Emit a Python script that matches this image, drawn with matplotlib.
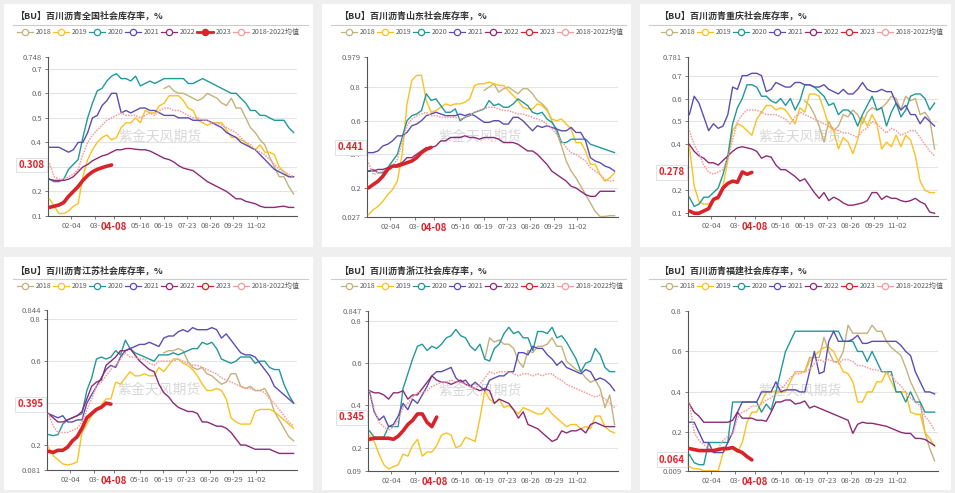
import numpy as np
import matplotlib.pyplot as plt
from matplotlib.lines import Line2D
from matplotlib.patches import Rectangle

plt.rcParams['font.family'] = ['Noto Sans CJK SC', 'DejaVu Sans']

W, H = 955, 493

# weekly sample points (day of year)
days = np.arange(3, 364, 7)
tick_days = [35, 70, 98, 136, 170, 204, 238, 272, 306]
tick_labels = ['02-04', '03-', '04-08', '05-16', '06-19', '07-23', '08-26', '09-29', '11-02']

years = ['2018', '2019', '2020', '2021', '2022', '2023', '2018-2022均值']
colors = ['#c4b27c', '#fac21e', '#22989a', '#5b4eb2', '#8c2b78', '#d9232b', '#f39c9c']

# ---- 全国 ----
qg_2018 = [0.62, 0.63, 0.61, 0.60, 0.60, 0.59, 0.58, 0.57, 0.58, 0.60,
           0.59, 0.58, 0.56, 0.55, 0.58, 0.54, 0.54, 0.50, 0.46, 0.44,
           0.41, 0.39, 0.34, 0.30, 0.26, 0.26, 0.22, 0.19]
qg_2019 = [0.17, 0.14, 0.11, 0.11, 0.12, 0.14, 0.15, 0.26, 0.33, 0.37,
           0.40, 0.42, 0.43, 0.41, 0.42, 0.46, 0.48, 0.48, 0.50, 0.48,
           0.53, 0.52, 0.52, 0.55, 0.56, 0.59, 0.59, 0.59, 0.57, 0.54,
           0.53, 0.49, 0.48, 0.47, 0.48, 0.48, 0.48, 0.45, 0.42, 0.42,
           0.41, 0.40, 0.38, 0.37, 0.39, 0.36, 0.36, 0.35, 0.30, 0.28,
           0.26, 0.26]
qg_2020 = [0.25, 0.24, 0.24, 0.25, 0.29, 0.31, 0.33, 0.42, 0.50, 0.56,
           0.61, 0.62, 0.65, 0.67, 0.68, 0.66, 0.66, 0.65, 0.67, 0.63,
           0.64, 0.65, 0.64, 0.65, 0.66, 0.66, 0.66, 0.66, 0.66, 0.64,
           0.64, 0.65, 0.66, 0.65, 0.64, 0.63, 0.62, 0.61, 0.60, 0.60,
           0.58, 0.56, 0.53, 0.53, 0.51, 0.51, 0.50, 0.49, 0.49, 0.49,
           0.46, 0.44]
qg_2021 = [0.38, 0.38, 0.38, 0.37, 0.36, 0.37, 0.40, 0.40, 0.44, 0.50,
           0.51, 0.55, 0.57, 0.60, 0.60, 0.52, 0.53, 0.52, 0.53, 0.54,
           0.54, 0.53, 0.53, 0.52, 0.51, 0.51, 0.51, 0.50, 0.50, 0.50,
           0.49, 0.49, 0.49, 0.49, 0.48, 0.47, 0.46, 0.44, 0.43, 0.42,
           0.40, 0.39, 0.38, 0.37, 0.35, 0.33, 0.31, 0.29, 0.28, 0.27,
           0.26, 0.26]
qg_2022 = [0.25, 0.245, 0.245, 0.245, 0.25, 0.26, 0.28, 0.30, 0.31, 0.325,
           0.335, 0.345, 0.35, 0.36, 0.37, 0.37, 0.375, 0.375, 0.372, 0.37,
           0.37, 0.365, 0.355, 0.345, 0.335, 0.33, 0.32, 0.305, 0.295, 0.29,
           0.285, 0.27, 0.255, 0.24, 0.23, 0.22, 0.21, 0.20, 0.185, 0.17,
           0.17, 0.16, 0.155, 0.15, 0.14, 0.135, 0.135, 0.135, 0.138, 0.14,
           0.135, 0.135]
qg_2023 = [0.135, 0.14, 0.145, 0.155, 0.18, 0.20, 0.22, 0.245, 0.265, 0.28,
           0.29, 0.297, 0.303, 0.308]
qg_avg = [0.315, 0.26, 0.25, 0.25, 0.26, 0.27, 0.29, 0.35, 0.40, 0.43,
          0.45, 0.47, 0.49, 0.50, 0.51, 0.52, 0.51, 0.51, 0.51, 0.50,
          0.51, 0.52, 0.51, 0.53, 0.54, 0.54, 0.53, 0.53, 0.52, 0.51,
          0.50, 0.50, 0.49, 0.49, 0.48, 0.48, 0.47, 0.46, 0.45, 0.44,
          0.42, 0.40, 0.39, 0.37, 0.36, 0.35, 0.33, 0.31, 0.29, 0.28,
          0.27, 0.26]

# ---- 山东 ----
sd_2018 = [0.78, 0.80, 0.82, 0.77, 0.79, 0.80, 0.78, 0.76, 0.79, 0.79,
           0.76, 0.72, 0.70, 0.67, 0.60, 0.53, 0.45, 0.36, 0.30, 0.26,
           0.21, 0.16, 0.11, 0.06, 0.03, 0.03, 0.035, 0.035]
sd_2019 = [0.04, 0.07, 0.09, 0.12, 0.16, 0.19, 0.24, 0.40, 0.70, 0.84,
           0.87, 0.87, 0.72, 0.65, 0.66, 0.68, 0.70, 0.69, 0.70, 0.70,
           0.71, 0.73, 0.81, 0.82, 0.82, 0.83, 0.82, 0.81, 0.81, 0.78,
           0.75, 0.72, 0.68, 0.67, 0.67, 0.70, 0.69, 0.66, 0.61, 0.60,
           0.61, 0.58, 0.55, 0.47, 0.47, 0.42, 0.34, 0.34, 0.28, 0.24,
           0.26, 0.29]
sd_2020 = [0.30, 0.31, 0.29, 0.29, 0.32, 0.36, 0.40, 0.50, 0.60, 0.63,
           0.64, 0.66, 0.76, 0.72, 0.73, 0.69, 0.65, 0.65, 0.67, 0.60,
           0.62, 0.63, 0.65, 0.66, 0.67, 0.72, 0.69, 0.70, 0.68, 0.68,
           0.70, 0.73, 0.71, 0.69, 0.65, 0.64, 0.65, 0.61, 0.59, 0.55,
           0.47, 0.47, 0.49, 0.49, 0.49, 0.49, 0.46, 0.45, 0.44, 0.43,
           0.42, 0.41]
sd_2021 = [0.41, 0.41, 0.42, 0.45, 0.46, 0.48, 0.51, 0.51, 0.53, 0.57,
           0.58, 0.60, 0.63, 0.64, 0.65, 0.64, 0.63, 0.63, 0.63, 0.64,
           0.63, 0.64, 0.63, 0.61, 0.59, 0.59, 0.60, 0.60, 0.58, 0.58,
           0.62, 0.62, 0.60, 0.57, 0.54, 0.57, 0.56, 0.57, 0.56, 0.55,
           0.54, 0.54, 0.56, 0.53, 0.53, 0.48, 0.38, 0.36, 0.35, 0.33,
           0.32, 0.30]
sd_2022 = [0.30, 0.30, 0.31, 0.31, 0.32, 0.33, 0.34, 0.35, 0.38, 0.38,
           0.40, 0.42, 0.44, 0.44, 0.45, 0.48, 0.48, 0.50, 0.50, 0.50,
           0.51, 0.50, 0.50, 0.49, 0.50, 0.50, 0.50, 0.49, 0.47, 0.47,
           0.47, 0.46, 0.44, 0.42, 0.42, 0.40, 0.37, 0.34, 0.30, 0.28,
           0.26, 0.24, 0.21, 0.20, 0.18, 0.16, 0.15, 0.15, 0.18, 0.18,
           0.18, 0.18]
sd_2023 = [0.20, 0.22, 0.24, 0.27, 0.31, 0.33, 0.33, 0.34, 0.35, 0.36,
           0.38, 0.41, 0.43, 0.441]
sd_avg = [0.35, 0.28, 0.29, 0.30, 0.31, 0.33, 0.37, 0.47, 0.57, 0.61,
          0.63, 0.64, 0.65, 0.63, 0.63, 0.62, 0.62, 0.62, 0.62, 0.61,
          0.62, 0.63, 0.65, 0.66, 0.67, 0.68, 0.68, 0.67, 0.66, 0.66,
          0.65, 0.64, 0.64, 0.63, 0.62, 0.61, 0.60, 0.58, 0.55, 0.52,
          0.48, 0.44, 0.41, 0.40, 0.38, 0.36, 0.32, 0.30, 0.28, 0.25,
          0.24, 0.245]

# ---- 重庆 ----
cq_2018 = [0.59, 0.57, 0.53, 0.48, 0.41, 0.50, 0.46, 0.48, 0.53, 0.52,
           0.55, 0.53, 0.49, 0.54, 0.56, 0.55, 0.56, 0.58, 0.61, 0.60,
           0.55, 0.61, 0.59, 0.60, 0.53, 0.54, 0.51, 0.38]
cq_2019 = [0.39, 0.22, 0.15, 0.14, 0.14, 0.16, 0.16, 0.22, 0.33, 0.46,
           0.49, 0.48, 0.46, 0.44, 0.51, 0.54, 0.57, 0.57, 0.55, 0.56,
           0.55, 0.52, 0.49, 0.56, 0.54, 0.62, 0.62, 0.61, 0.55, 0.48,
           0.46, 0.38, 0.43, 0.41, 0.36, 0.42, 0.52, 0.48, 0.53, 0.49,
           0.38, 0.41, 0.39, 0.44, 0.39, 0.44, 0.42, 0.35, 0.24, 0.20,
           0.19, 0.19]
cq_2020 = [0.17, 0.13, 0.14, 0.17, 0.17, 0.19, 0.21, 0.27, 0.35, 0.49,
           0.56, 0.60, 0.66, 0.66, 0.65, 0.61, 0.61, 0.59, 0.58, 0.60,
           0.57, 0.60, 0.55, 0.59, 0.66, 0.66, 0.65, 0.63, 0.61, 0.57,
           0.58, 0.53, 0.55, 0.55, 0.53, 0.48, 0.53, 0.57, 0.61, 0.55,
           0.56, 0.48, 0.54, 0.58, 0.52, 0.55, 0.61, 0.62, 0.62, 0.60,
           0.55, 0.58]
cq_2021 = [0.53, 0.61, 0.58, 0.52, 0.46, 0.49, 0.47, 0.48, 0.53, 0.65,
           0.64, 0.70, 0.70, 0.71, 0.71, 0.70, 0.63, 0.64, 0.67, 0.66,
           0.65, 0.65, 0.67, 0.67, 0.66, 0.66, 0.65, 0.65, 0.66, 0.64,
           0.63, 0.62, 0.64, 0.62, 0.62, 0.64, 0.67, 0.64, 0.63, 0.63,
           0.64, 0.63, 0.63, 0.58, 0.55, 0.57, 0.53, 0.53, 0.49, 0.52,
           0.50, 0.48]
cq_2022 = [0.40, 0.37, 0.35, 0.34, 0.32, 0.32, 0.31, 0.33, 0.35, 0.37,
           0.385, 0.39, 0.385, 0.38, 0.37, 0.34, 0.35, 0.345, 0.31, 0.29,
           0.29, 0.275, 0.26, 0.24, 0.25, 0.22, 0.19, 0.165, 0.19, 0.155,
           0.17, 0.16, 0.145, 0.135, 0.135, 0.14, 0.145, 0.155, 0.19, 0.19,
           0.16, 0.175, 0.165, 0.165, 0.155, 0.15, 0.155, 0.165, 0.15, 0.14,
           0.105, 0.10]
cq_2023 = [0.11, 0.10, 0.10, 0.11, 0.12, 0.16, 0.17, 0.21, 0.23, 0.24,
           0.235, 0.28, 0.27, 0.278]
cq_avg = [0.46, 0.40, 0.36, 0.31, 0.28, 0.27, 0.28, 0.29, 0.34, 0.42,
          0.50, 0.53, 0.55, 0.55, 0.55, 0.54, 0.53, 0.53, 0.53, 0.52,
          0.51, 0.49, 0.52, 0.54, 0.53, 0.52, 0.51, 0.50, 0.49, 0.48,
          0.47, 0.46, 0.45, 0.45, 0.44, 0.43, 0.46, 0.47, 0.50, 0.49,
          0.47, 0.45, 0.47, 0.46, 0.44, 0.45, 0.46, 0.46, 0.43, 0.40,
          0.37, 0.35]

# ---- 江苏 ----
js_2018 = [0.64, 0.65, 0.65, 0.66, 0.65, 0.60, 0.57, 0.56, 0.57, 0.54,
           0.53, 0.51, 0.49, 0.50, 0.54, 0.54, 0.48, 0.47, 0.48, 0.46,
           0.46, 0.47, 0.43, 0.36, 0.32, 0.28, 0.24, 0.22]
js_2019 = [0.19, 0.15, 0.13, 0.11, 0.105, 0.11, 0.12, 0.26, 0.30, 0.34,
           0.37, 0.39, 0.42, 0.42, 0.50, 0.49, 0.52, 0.55, 0.53, 0.53,
           0.54, 0.53, 0.53, 0.57, 0.55, 0.58, 0.61, 0.61, 0.59, 0.58,
           0.56, 0.53, 0.49, 0.46, 0.46, 0.47, 0.46, 0.42, 0.33, 0.31,
           0.30, 0.30, 0.30, 0.36, 0.37, 0.37, 0.37, 0.36, 0.34, 0.32,
           0.30, 0.28]
js_2020 = [0.25, 0.245, 0.25, 0.30, 0.32, 0.33, 0.34, 0.35, 0.46, 0.52,
           0.61, 0.62, 0.61, 0.62, 0.65, 0.63, 0.70, 0.66, 0.64, 0.63,
           0.62, 0.61, 0.60, 0.63, 0.63, 0.63, 0.64, 0.63, 0.64, 0.65,
           0.66, 0.66, 0.69, 0.68, 0.69, 0.66, 0.61, 0.60, 0.59, 0.60,
           0.62, 0.62, 0.62, 0.59, 0.60, 0.60, 0.57, 0.56, 0.56, 0.49,
           0.44, 0.40]
js_2021 = [0.35, 0.34, 0.33, 0.34, 0.31, 0.31, 0.32, 0.32, 0.40, 0.44,
           0.48, 0.52, 0.56, 0.58, 0.57, 0.62, 0.65, 0.66, 0.67, 0.68,
           0.68, 0.69, 0.68, 0.67, 0.71, 0.72, 0.72, 0.74, 0.75, 0.74,
           0.76, 0.75, 0.75, 0.75, 0.76, 0.75, 0.71, 0.73, 0.70, 0.67,
           0.64, 0.63, 0.63, 0.62, 0.59, 0.56, 0.53, 0.48, 0.46, 0.44,
           0.42, 0.40]
js_2022 = [0.35, 0.33, 0.31, 0.31, 0.32, 0.33, 0.34, 0.36, 0.42, 0.48,
           0.50, 0.51, 0.58, 0.60, 0.62, 0.65, 0.65, 0.66, 0.63, 0.60,
           0.58, 0.56, 0.55, 0.49, 0.45, 0.43, 0.40, 0.38, 0.37, 0.36,
           0.36, 0.35, 0.31, 0.31, 0.30, 0.29, 0.29, 0.28, 0.26, 0.23,
           0.20, 0.20, 0.19, 0.18, 0.18, 0.18, 0.18, 0.17, 0.16, 0.16,
           0.16, 0.16]
js_2023 = [0.17, 0.165, 0.175, 0.175, 0.19, 0.22, 0.24, 0.28, 0.33, 0.35,
           0.37, 0.38, 0.40, 0.395]
js_avg = [0.35, 0.29, 0.26, 0.26, 0.26, 0.27, 0.28, 0.31, 0.37, 0.42,
          0.48, 0.50, 0.53, 0.56, 0.58, 0.61, 0.64, 0.62, 0.62, 0.61,
          0.61, 0.59, 0.58, 0.60, 0.60, 0.60, 0.60, 0.61, 0.60, 0.59,
          0.58, 0.58, 0.57, 0.56, 0.55, 0.54, 0.52, 0.51, 0.50, 0.49,
          0.48, 0.47, 0.47, 0.46, 0.46, 0.45, 0.42, 0.40, 0.37, 0.34,
          0.31, 0.29]

# ---- 浙江 ----
zj_2018 = [0.62, 0.72, 0.70, 0.71, 0.69, 0.69, 0.67, 0.61, 0.58, 0.66,
           0.65, 0.68, 0.68, 0.69, 0.72, 0.68, 0.68, 0.61, 0.59, 0.57,
           0.56, 0.53, 0.51, 0.52, 0.48, 0.39, 0.45, 0.31]
zj_2019 = [0.26, 0.23, 0.17, 0.12, 0.10, 0.11, 0.12, 0.17, 0.16, 0.21,
           0.24, 0.16, 0.18, 0.18, 0.21, 0.26, 0.27, 0.26, 0.20, 0.21,
           0.25, 0.24, 0.23, 0.34, 0.47, 0.43, 0.41, 0.43, 0.39, 0.40,
           0.38, 0.36, 0.39, 0.38, 0.37, 0.36, 0.36, 0.39, 0.36, 0.34,
           0.32, 0.30, 0.31, 0.31, 0.29, 0.30, 0.29, 0.35, 0.35, 0.30,
           0.28, 0.27]
zj_2020 = [0.28, 0.25, 0.25, 0.25, 0.30, 0.30, 0.30, 0.48, 0.55, 0.62,
           0.68, 0.69, 0.66, 0.68, 0.67, 0.69, 0.72, 0.73, 0.76, 0.73,
           0.72, 0.68, 0.66, 0.69, 0.62, 0.61, 0.67, 0.69, 0.74, 0.77,
           0.74, 0.75, 0.72, 0.72, 0.66, 0.75, 0.75, 0.74, 0.77, 0.72,
           0.73, 0.70, 0.66, 0.62, 0.56, 0.60, 0.61, 0.67, 0.64, 0.58,
           0.56, 0.56]
zj_2021 = [0.47, 0.37, 0.33, 0.35, 0.30, 0.31, 0.35, 0.41, 0.38, 0.43,
           0.41, 0.45, 0.49, 0.54, 0.56, 0.56, 0.57, 0.58, 0.53, 0.51,
           0.52, 0.49, 0.51, 0.49, 0.47, 0.52, 0.53, 0.54, 0.54, 0.56,
           0.56, 0.65, 0.65, 0.64, 0.68, 0.67, 0.67, 0.64, 0.62, 0.59,
           0.61, 0.58, 0.57, 0.56, 0.55, 0.57, 0.56, 0.52, 0.53, 0.52,
           0.50, 0.47]
zj_2022 = [0.47, 0.46, 0.46, 0.45, 0.43, 0.46, 0.46, 0.47, 0.43, 0.45,
           0.45, 0.48, 0.51, 0.54, 0.52, 0.51, 0.51, 0.50, 0.51, 0.52,
           0.50, 0.49, 0.48, 0.47, 0.48, 0.47, 0.41, 0.43, 0.42, 0.41,
           0.38, 0.34, 0.37, 0.31, 0.30, 0.29, 0.27, 0.25, 0.23, 0.24,
           0.28, 0.27, 0.28, 0.28, 0.29, 0.27, 0.31, 0.32, 0.31, 0.30,
           0.30, 0.30]
zj_2023 = [0.24, 0.245, 0.245, 0.245, 0.245, 0.24, 0.255, 0.28, 0.31, 0.33,
           0.36, 0.36, 0.32, 0.30, 0.345]
zj_avg = [0.47, 0.38, 0.32, 0.30, 0.28, 0.30, 0.33, 0.39, 0.41, 0.44,
          0.46, 0.46, 0.47, 0.49, 0.50, 0.51, 0.51, 0.52, 0.51, 0.51,
          0.50, 0.49, 0.48, 0.50, 0.53, 0.56, 0.55, 0.56, 0.56, 0.56,
          0.55, 0.54, 0.55, 0.55, 0.54, 0.55, 0.54, 0.55, 0.55, 0.53,
          0.52, 0.50, 0.49, 0.48, 0.47, 0.46, 0.45, 0.44, 0.45, 0.43,
          0.41, 0.39]

# ---- 福建 ----
fj_2018 = [0.50, 0.57, 0.57, 0.57, 0.67, 0.60, 0.55, 0.55, 0.60, 0.73,
           0.69, 0.69, 0.69, 0.69, 0.73, 0.70, 0.70, 0.65, 0.62, 0.60,
           0.58, 0.52, 0.45, 0.40, 0.35, 0.20, 0.12, 0.06]
fj_2019 = [0.03, 0.02, 0.02, 0.01, 0.01, 0.01, 0.01, 0.10, 0.12, 0.12,
           0.10, 0.15, 0.25, 0.30, 0.30, 0.35, 0.40, 0.40, 0.40, 0.40,
           0.40, 0.45, 0.50, 0.50, 0.50, 0.55, 0.58, 0.60, 0.62, 0.62,
           0.60, 0.55, 0.50, 0.49, 0.45, 0.35, 0.35, 0.40, 0.40, 0.45,
           0.45, 0.50, 0.45, 0.40, 0.40, 0.40, 0.30, 0.29, 0.29, 0.20,
           0.17, 0.13]
fj_2020 = [0.09, 0.05, 0.04, 0.04, 0.15, 0.15, 0.15, 0.15, 0.15, 0.35,
           0.35, 0.35, 0.35, 0.35, 0.35, 0.30, 0.34, 0.31, 0.40, 0.50,
           0.60, 0.65, 0.70, 0.70, 0.70, 0.70, 0.70, 0.70, 0.70, 0.70,
           0.70, 0.70, 0.65, 0.65, 0.65, 0.60, 0.60, 0.55, 0.60, 0.55,
           0.50, 0.50, 0.50, 0.40, 0.40, 0.35, 0.40, 0.35, 0.35, 0.30,
           0.30, 0.30]
fj_2021 = [0.25, 0.25, 0.20, 0.15, 0.15, 0.10, 0.10, 0.10, 0.15, 0.20,
           0.30, 0.35, 0.35, 0.35, 0.35, 0.40, 0.40, 0.40, 0.45, 0.40,
           0.41, 0.41, 0.41, 0.40, 0.40, 0.50, 0.60, 0.49, 0.50, 0.65,
           0.70, 0.65, 0.65, 0.65, 0.66, 0.68, 0.64, 0.64, 0.65, 0.65,
           0.65, 0.65, 0.65, 0.65, 0.63, 0.60, 0.58, 0.50, 0.45, 0.40,
           0.40, 0.39]
fj_2022 = [0.34, 0.30, 0.28, 0.25, 0.25, 0.25, 0.25, 0.25, 0.25, 0.26,
           0.30, 0.27, 0.27, 0.27, 0.26, 0.26, 0.255, 0.30, 0.35, 0.35,
           0.36, 0.36, 0.34, 0.345, 0.355, 0.32, 0.33, 0.32, 0.31, 0.30,
           0.29, 0.28, 0.27, 0.26, 0.195, 0.24, 0.25, 0.245, 0.245, 0.24,
           0.235, 0.23, 0.22, 0.21, 0.20, 0.195, 0.195, 0.17, 0.17, 0.165,
           0.15, 0.135]
fj_2023 = [0.12, 0.115, 0.11, 0.11, 0.11, 0.11, 0.115, 0.12, 0.12, 0.125,
           0.11, 0.10, 0.08, 0.064]
fj_avg = [0.35, 0.20, 0.16, 0.14, 0.12, 0.11, 0.12, 0.16, 0.18, 0.19,
          0.27, 0.30, 0.31, 0.33, 0.33, 0.34, 0.36, 0.37, 0.39, 0.41,
          0.44, 0.47, 0.49, 0.49, 0.50, 0.51, 0.54, 0.56, 0.55, 0.56,
          0.55, 0.54, 0.56, 0.56, 0.55, 0.53, 0.53, 0.52, 0.51, 0.51,
          0.50, 0.50, 0.48, 0.45, 0.43, 0.40, 0.37, 0.35, 0.33, 0.28,
          0.25, 0.21]

regions = ['全国', '山东', '重庆', '江苏', '浙江', '福建']
series = [
    [qg_2018, qg_2019, qg_2020, qg_2021, qg_2022, qg_2023, qg_avg],
    [sd_2018, sd_2019, sd_2020, sd_2021, sd_2022, sd_2023, sd_avg],
    [cq_2018, cq_2019, cq_2020, cq_2021, cq_2022, cq_2023, cq_avg],
    [js_2018, js_2019, js_2020, js_2021, js_2022, js_2023, js_avg],
    [zj_2018, zj_2019, zj_2020, zj_2021, zj_2022, zj_2023, zj_avg],
    [fj_2018, fj_2019, fj_2020, fj_2021, fj_2022, fj_2023, fj_avg],
]
ylims = [(0.1, 0.748), (0.027, 0.979), (0.088, 0.781),
         (0.081, 0.844), (0.09, 0.847), (0.009, 0.8)]
yticks = [[0.1, 0.2, 0.3, 0.4, 0.5, 0.6, 0.7, 0.748],
          [0.027, 0.2, 0.4, 0.6, 0.8, 0.979],
          [0.1, 0.2, 0.3, 0.4, 0.5, 0.6, 0.7, 0.781],
          [0.081, 0.2, 0.4, 0.6, 0.8, 0.844],
          [0.09, 0.2, 0.4, 0.6, 0.8, 0.847],
          [0.009, 0.2, 0.4, 0.6, 0.8]]

# layout in pixels: axes (left, right, top, bottom)
ax_px = [(48, 297, 57, 216), (367, 618, 57, 217), (688, 938, 57, 216),
         (47, 297, 310, 470), (368, 618, 311, 471), (688, 938, 311, 471)]
cards_x = [(4, 313), (322, 631), (640, 951)]
cards_y = [(4, 247), (257, 490)]
content_x = [15, 339, 659]
title_y = [16, 271]
sep_y = [25, 279]
legend_y = [32, 286]


def fx(px):
    return px / W


def fy(py):
    return 1 - py / H


fig = plt.figure(figsize=(W / 100, H / 100), dpi=100)
fig.patch.set_facecolor('#efefef')

for i in range(6):
    r, c = divmod(i, 3)
    x0, x1 = cards_x[c]
    y0, y1 = cards_y[r]
    fig.add_artist(Rectangle((fx(x0), fy(y1)), fx(x1 - x0), (y1 - y0) / H,
                             transform=fig.transFigure, fc='white', ec='none', zorder=0))

    # title + separator
    fig.text(fx(content_x[c]), fy(title_y[r]), '【BU】百川沥青' + regions[i] + '社会库存率，%',
             fontsize=6.5, fontweight='bold', color='#333333', va='center', ha='left')
    fig.add_artist(Line2D([fx(x0 + 9), fx(x1 - 5)], [fy(sep_y[r])] * 2,
                          transform=fig.transFigure, color='#cccccc', lw=0.8))

    # legend row
    for j, name in enumerate(years):
        lx = content_x[c] + 2 + 36 * j
        ly = fy(legend_y[r])
        filled = (i == 0 and j == 5)
        fig.add_artist(Line2D([fx(lx), fx(lx + 8), fx(lx + 16)], [ly] * 3,
                              transform=fig.transFigure, color=colors[j],
                              lw=2.0 if filled else 0.9, marker='o', markevery=[1],
                              ms=4.5, mfc=colors[j] if filled else 'white',
                              mec=colors[j], mew=0.9))
        fig.text(fx(lx + 19), ly, name, fontsize=5.1, color='#595959', va='center', ha='left')

    l, rr, t, b = ax_px[i]
    ax = fig.add_axes([fx(l), fy(b), fx(rr - l), (b - t) / H])

    for j, vals in enumerate(series[i]):
        if j == 0:
            xs = days[-len(vals):]
        else:
            xs = days[:len(vals)]
        if j == 5:
            ax.plot(xs, vals, color=colors[j], lw=2.6, zorder=6, solid_capstyle='round')
        elif j == 6:
            ax.plot(xs, vals, color=colors[j], lw=1.1, ls=(0, (1, 0.8)), zorder=4)
        else:
            ax.plot(xs, vals, color=colors[j], lw=1.0, zorder=3)

    last = series[i][5][-1]
    lo, hi = ylims[i]

    ax.set_xlim(1, 365)
    ax.set_ylim(lo, hi)
    ax.set_yticks(yticks[i])
    # tick labels hidden behind the current-value box are left blank
    ax.set_yticklabels(['' if abs(t - last) / (hi - lo) < 0.04 else f'{t:g}'
                        for t in yticks[i]])
    for t in yticks[i][1:]:
        if t < hi - 1e-9:
            ax.axhline(t, color='#e3e3e3', lw=0.8, zorder=1)
    ax.set_xticks(tick_days)
    ax.set_xticklabels(tick_labels)

    for s in ['top', 'right']:
        ax.spines[s].set_visible(False)
    for s in ['left', 'bottom']:
        ax.spines[s].set_color('#555555')
        ax.spines[s].set_linewidth(0.8)
    ax.tick_params(axis='both', labelsize=5.5, labelcolor='#666666', color='#666666',
                   length=2.5, width=0.6, pad=2)
    ax.set_facecolor('none')

    # current date label on the x axis
    lab = ax.get_xticklabels()[2]
    lab.set_color('#d9232b')
    lab.set_fontweight('bold')
    lab.set_fontsize(7)

    ax.text(0.45, 0.5, '紫金天风期货', transform=ax.transAxes, fontsize=10,
            color='#d8d8d8', ha='center', va='center', zorder=2)

    ax.annotate(f'{last:g}', xy=(-0.012, last), xycoords=('axes fraction', 'data'),
                ha='right', va='center', color='#e0242b', fontsize=7, fontweight='bold',
                bbox=dict(boxstyle='square,pad=0.25', fc='white', ec='#dddddd', lw=0.6),
                zorder=10, annotation_clip=False)

fig.savefig('out.png', dpi=100, facecolor=fig.get_facecolor())
